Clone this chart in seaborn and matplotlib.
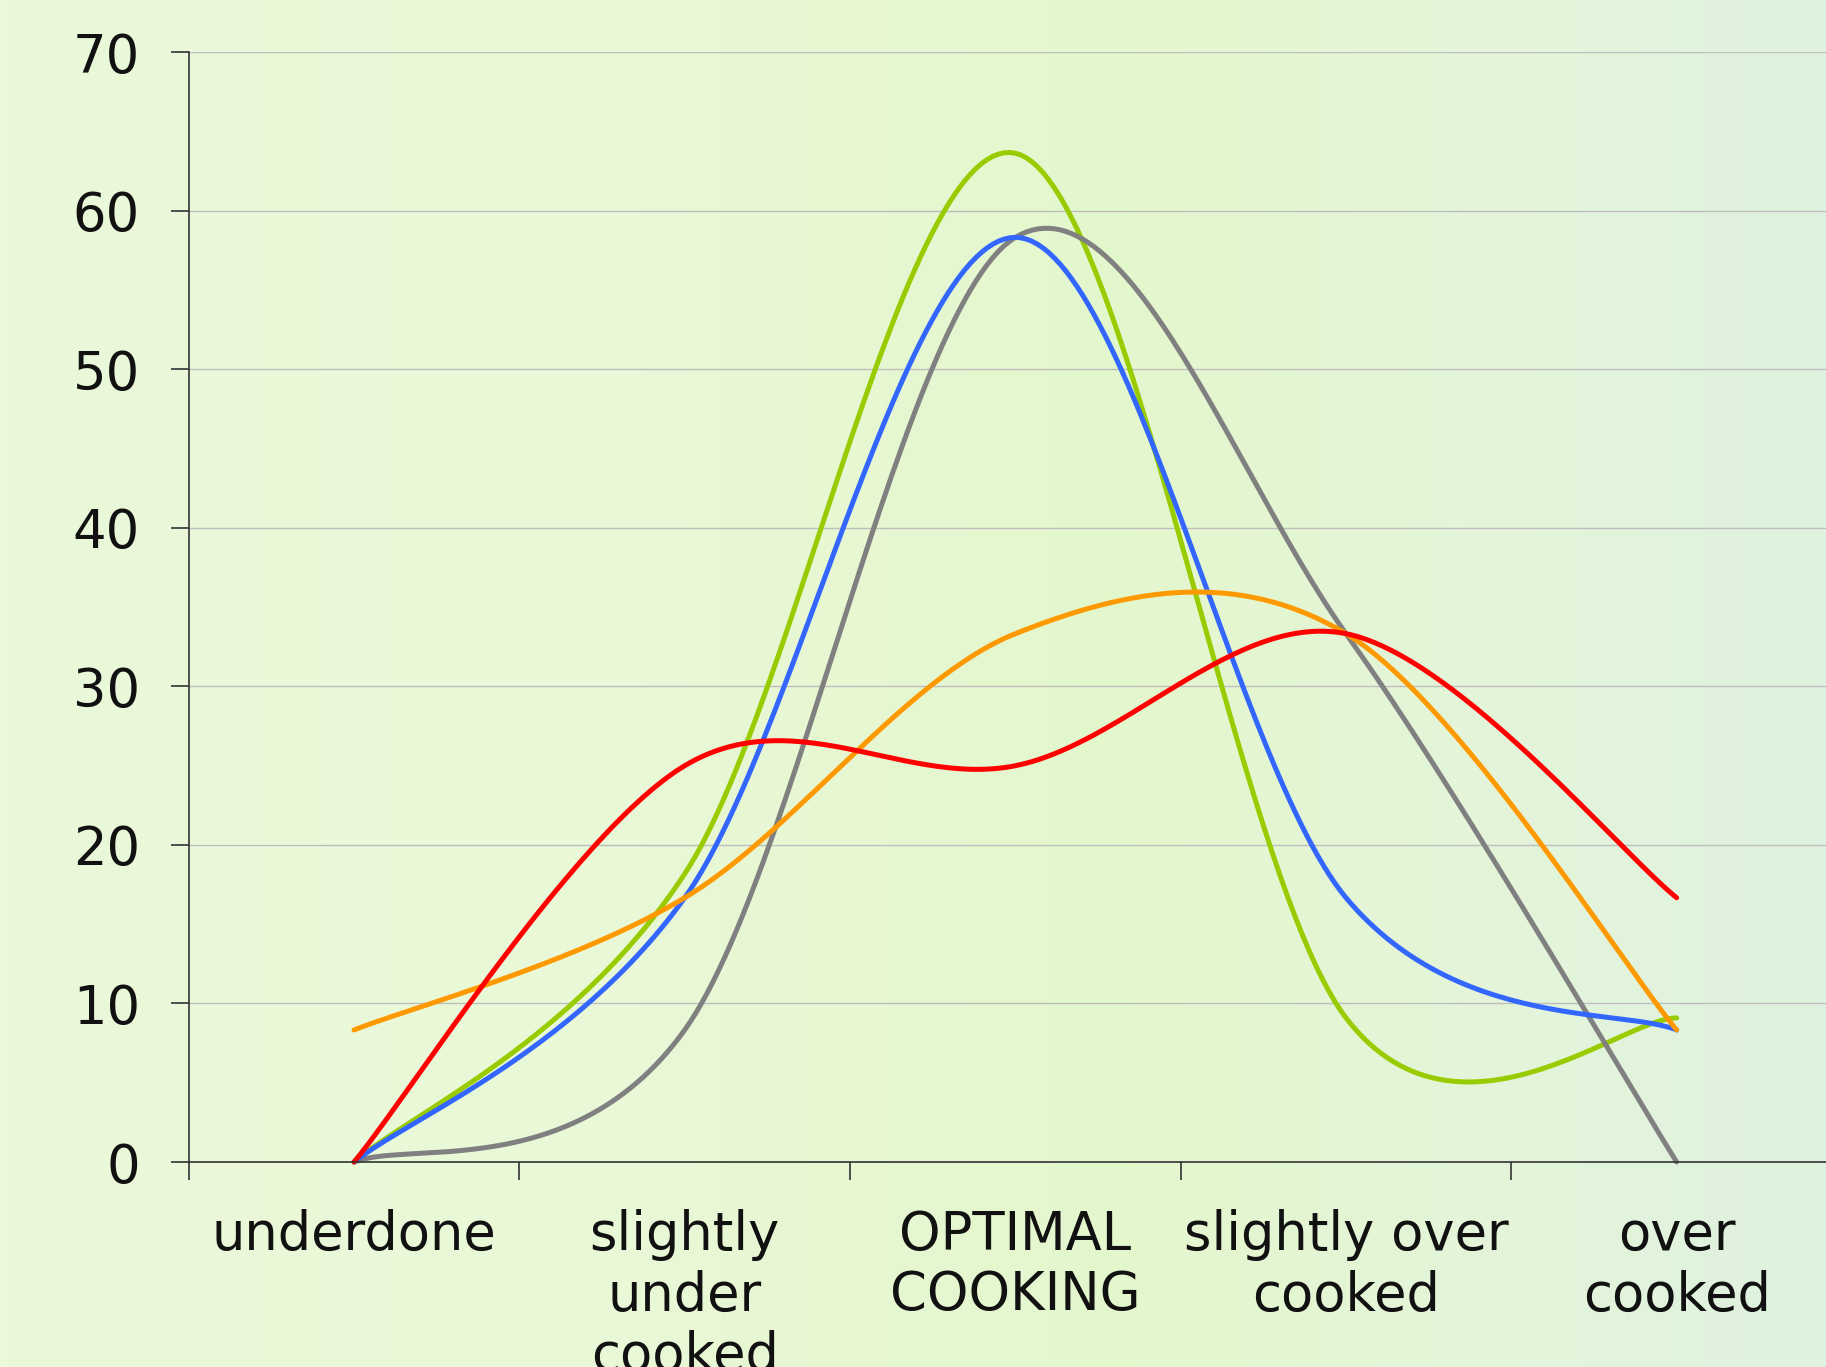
import numpy as np
import pandas as pd
import matplotlib
matplotlib.use("Agg")
import matplotlib.pyplot as plt
from matplotlib.colors import LinearSegmentedColormap
import seaborn as sns

# Share of tasters (%) placing the sample in each doneness category
categories = ["underdone", "slightly\nunder\ncooked", "OPTIMAL\nCOOKING",
              "slightly over\ncooked", "over\ncooked"]
green_vals = [0.0, 18.18, 63.64, 9.09, 9.09]
gray_vals = [0.0, 8.33, 58.33, 33.33, 0.0]
blue_vals = [0.0, 16.67, 58.33, 16.67, 8.33]
orange_vals = [8.33, 16.67, 33.33, 33.33, 8.33]
red_vals = [0.0, 25.0, 25.0, 33.33, 16.67]

series_names = ["green", "gray", "blue", "orange", "red"]
series_values = [green_vals, gray_vals, blue_vals, orange_vals, red_vals]
palette = {"green": "#99CC00", "gray": "#808080", "blue": "#3366FF",
           "orange": "#FF9900", "red": "#FF0000"}
y_ticks = [0, 10, 20, 30, 40, 50, 60, 70]

LINE_W = 3.6


def smooth_curve(xs, ys, steps=60):
    """Bezier smoothing through every point (spreadsheet-style smoothed line)."""
    p = np.column_stack([xs, ys]).astype(float)
    n = len(p)
    out = []
    for i in range(n - 1):
        p0 = p[i - 1] if i > 0 else p[i]
        p1, p2 = p[i], p[i + 1]
        p3 = p[i + 2] if i + 2 < n else p[i + 1]
        c1 = p1 + (p2 - p0) / 6.0
        c2 = p2 - (p3 - p1) / 6.0
        t = np.linspace(0, 1, steps)[:, None]
        seg = ((1 - t) ** 3) * p1 + 3 * ((1 - t) ** 2) * t * c1 \
            + 3 * (1 - t) * t ** 2 * c2 + t ** 3 * p2
        out.append(seg if i == 0 else seg[1:])
    return np.vstack(out)


rows = []
for name, vals in zip(series_names, series_values):
    curve = smooth_curve(np.arange(len(vals)), vals)
    for k, (cx, cy) in enumerate(curve):
        rows.append({"series": name, "order": k, "x": cx, "y": cy})
df = pd.DataFrame(rows)

sns.set_theme(style="white")
plt.rcParams["font.family"] = ["DejaVu Sans"]
plt.rcParams["lines.linewidth"] = LINE_W
plt.rcParams["lines.solid_capstyle"] = "round"
plt.rcParams["lines.solid_joinstyle"] = "round"

W, H = 1826, 1367
fig = plt.figure(figsize=(W / 100, H / 100), dpi=100)

# soft green background wash
bg = fig.add_axes([0, 0, 1, 1], zorder=-10)
bg_cmap = LinearSegmentedColormap.from_list(
    "wash", [(0.0, "#EBF9DB"), (0.35, "#E9F8D6"), (0.62, "#E3F7CD"),
             (0.8, "#E4F5D9"), (1.0, "#DFF2DF")])
grad = np.tile(np.linspace(0, 1, 400), (50, 1))
bg.imshow(grad, aspect="auto", cmap=bg_cmap, extent=[0, 1, 0, 1])
bg.set_axis_off()

ax = fig.add_axes([188.7 / W, 1 - 1162 / H, (1842 - 188.7) / W, (1162 - 52.4) / H])
ax.set_facecolor("none")

sns.lineplot(data=df, x="x", y="y", hue="series", hue_order=series_names,
             palette=palette, sort=False, estimator=None, units="series",
             linewidth=LINE_W, legend=False, ax=ax)
for line in ax.get_lines():
    line.set_linewidth(LINE_W)
    line.set_clip_on(False)

ax.set_xlim(-0.5, len(categories) - 0.5)
ax.set_ylim(0, 70)
ax.set_yticks(y_ticks)
ax.set_yticklabels([str(v) for v in y_ticks])
ax.set_xticks(range(len(categories)))
ax.set_xticklabels(categories, linespacing=1.2)
ax.set_xticks(np.arange(-0.5, len(categories) + 0.5, 1.0), minor=True)

ax.grid(axis="y", color="#BEBEBE", linewidth=1.0)
ax.grid(axis="x", visible=False)
ax.set_axisbelow(True)

for side in ["top", "right"]:
    ax.spines[side].set_visible(False)
for side in ["left", "bottom"]:
    ax.spines[side].set_color("#333333")
    ax.spines[side].set_linewidth(1.2)

ax.tick_params(axis="y", which="major", direction="out", length=13, width=1.2,
               color="#333333", labelsize=38, pad=22, left=True)
ax.tick_params(axis="x", which="major", length=0, labelsize=38, pad=34,
               bottom=True)
ax.tick_params(axis="x", which="minor", direction="out", length=13, width=1.2,
               color="#333333", bottom=True)
for lbl in ax.get_xticklabels() + ax.get_yticklabels():
    lbl.set_color("#111111")
for lbl in ax.get_xticklabels():
    lbl.set_verticalalignment("top")

ax.set_xlabel("")
ax.set_ylabel("")

fig.savefig("out.png", dpi=100)
